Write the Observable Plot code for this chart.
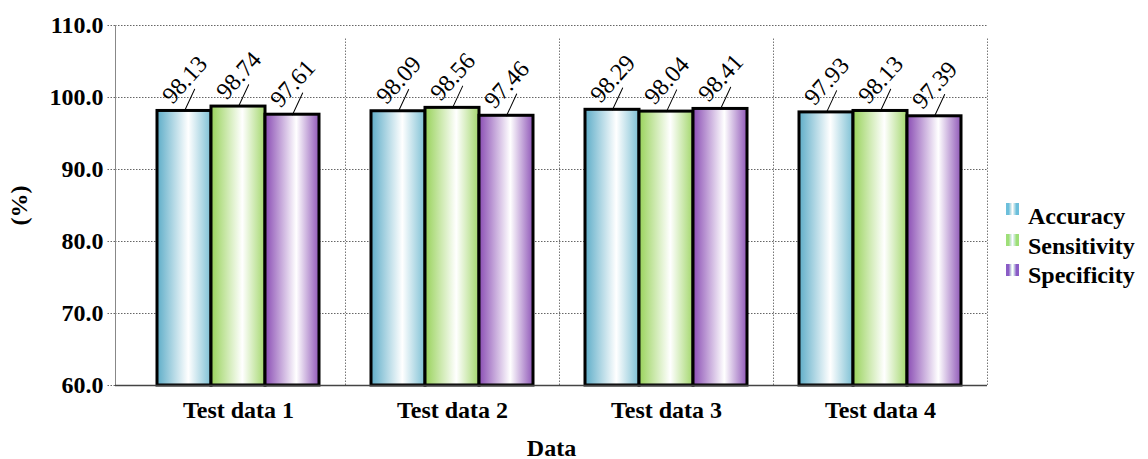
<!DOCTYPE html>
<html>
<head>
<meta charset="utf-8">
<script src="https://cdn.jsdelivr.net/npm/d3@7"></script>
<script src="https://cdn.jsdelivr.net/npm/@observablehq/plot@0.6"></script>
<style>
  body { margin: 0; background: #fff; }
  #wrap { position: relative; width: 1148px; height: 459px; overflow: hidden; }
  .leg { position: absolute; font-family: "Liberation Serif", "Times New Roman", serif; font-weight: bold; font-size: 24px; line-height: 28px; color: #000; white-space: nowrap; }
  .sw { position: absolute; width: 13px; height: 12px; }
</style>
</head>
<body>
<div id="wrap"></div>
<script>
const groups = ["Test data 1", "Test data 2", "Test data 3", "Test data 4"];
const series = ["Accuracy", "Sensitivity", "Specificity"];
const accuracy = [98.13, 98.09, 98.29, 97.93];
const sensitivity = [98.74, 98.56, 98.04, 98.13];
const specificity = [97.61, 97.46, 98.41, 97.39];
const yTicks = [60, 70, 80, 90, 100, 110];
const seriesColors = [
  ["#5eadc8", "#7dc0d4"],
  ["#98d25a", "#a3d76c"],
  ["#8a4db4", "#9058b8"]
];
const swatchColors = ["#6cbfdb", "#9edf78", "#8a5cc6"];

const values = [accuracy, sensitivity, specificity];
const rows = series.map((s, i) => groups.map((g, j) => ({group: g, series: s, value: values[i][j]})));

const W = 1148, H = 459;
const mL = 115, mR = 161, mT = 25, mB = 74;
const step = (W - mR - (mL + 16)) / groups.length;
const barW = 54;
const inset = (step - barW) / 2;
const offs = [-54, 0, 54];
const serif = "'Liberation Serif', 'Times New Roman', serif";

const marks = [
  Plot.gridY(yTicks, {stroke: "#666", strokeOpacity: 1, strokeDasharray: "1.5,1.5"}),
  Plot.ruleX(groups, {x: d => d, dx: step / 2, y1: 60, y2: 110, insetBottom: -12, stroke: "#777", strokeDasharray: "1.5,1.5"}),
  Plot.frame({anchor: "left", stroke: "#888"}),
  Plot.axisY({ticks: yTicks, tickFormat: d3.format(".1f"), tickSize: 9, tickPadding: 3, stroke: "#666", strokeDasharray: "1.5,1.5",
    fontSize: 24, fontWeight: "bold", fontFamily: serif, fill: "#000",
    label: "(%)", labelAnchor: "center", labelOffset: 106, labelArrow: "none"}),
  Plot.axisX({tickSize: 0, tickPadding: 15, fontSize: 24, fontWeight: "bold", fontFamily: serif, fill: "#000",
    label: "Data", labelAnchor: "center", labelOffset: 70, labelArrow: "none"}),
];
rows.forEach((data, i) => {
  marks.push(Plot.barY(data, {x: "group", y1: 60, y2: "value", dx: offs[i], insetLeft: inset, insetRight: inset,
    fill: `url(#grad${i})`, stroke: "#000", strokeWidth: 3}));
});
marks.push(Plot.ruleY([60], {stroke: "#444", strokeWidth: 1.5}));
rows.forEach((data, i) => {
  marks.push(Plot.vector(data, {x: "group", y: "value", dx: offs[i], length: 24, rotate: 25, anchor: "start",
    stroke: "#000", strokeWidth: 1,
    shape: {draw(ctx, l) { ctx.moveTo(0, 0); ctx.lineTo(0, -l); }}}));
  marks.push(Plot.text(data, {x: "group", y: "value", text: d => d.value.toFixed(2), dx: offs[i] + 6, dy: -26,
    rotate: -48, textAnchor: "middle", lineAnchor: "bottom", fontSize: 24, fontFamily: serif, fill: "#000"}));
});

const chart = Plot.plot({
  width: W, height: H,
  marginLeft: mL, marginRight: mR, marginTop: mT, marginBottom: mB,
  style: {background: "#fff", overflow: "visible"},
  x: {domain: groups, range: [mL + 16, W - mR], padding: 0},
  y: {domain: [60, 110]},
  marks
});

const svg = d3.select(chart);
const defs = svg.insert("defs", ":first-child");
seriesColors.forEach((c, i) => {
  const g = defs.append("linearGradient").attr("id", `grad${i}`).attr("x1", "0").attr("x2", "1").attr("y1", "0").attr("y2", "0");
  g.append("stop").attr("offset", "0%").attr("stop-color", c[0]);
  g.append("stop").attr("offset", "58%").attr("stop-color", "#ffffff");
  g.append("stop").attr("offset", "100%").attr("stop-color", c[1]);
});

const wrap = document.getElementById("wrap");
wrap.appendChild(chart);

const swTops = [203, 234, 264];
const textTops = [202, 231.5, 261];
series.forEach((s, i) => {
  const c = swatchColors[i];
  const sw = document.createElement("div");
  sw.className = "sw";
  sw.style.left = "1006px";
  sw.style.top = swTops[i] + "px";
  sw.style.background = `linear-gradient(to right, ${c} 0%, ${c} 20%, #dfeff0 42%, #fff 50%, #dfeff0 58%, ${c} 80%, ${c} 100%)`;
  wrap.appendChild(sw);
  const t = document.createElement("div");
  t.className = "leg";
  t.style.left = "1028px";
  t.style.top = textTops[i] + "px";
  t.textContent = s;
  wrap.appendChild(t);
});
</script>
</body>
</html>
